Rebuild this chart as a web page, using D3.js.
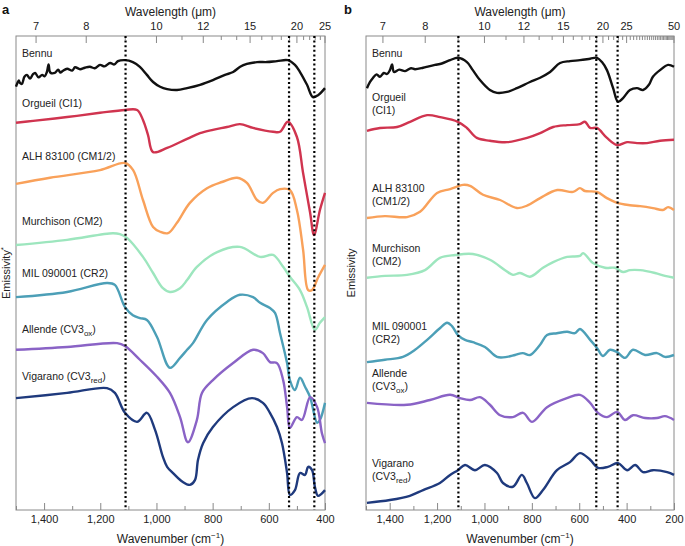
<!DOCTYPE html>
<html>
<head>
<meta charset="utf-8">
<script src="https://cdn.jsdelivr.net/npm/d3@7"></script>
<style>
  body { margin: 0; background: #fff; }
  svg { font-family: "Liberation Sans", Arial, sans-serif; }
  .axis text { font-size: 11px; fill: #222; }
  .axis path { display: none; }
  .axis line { stroke: #888; }
</style>
</head>
<body>
<svg width="685" height="546"></svg>
<script>
// ---- dados (numero de onda em cm-1, emissividade empilhada em unidades arbitrarias) ----
let nomes = ["Bennu", "Orgueil (CI1)", "ALH 83100 (CM1/2)", "Murchison (CM2)", "MIL 090001 (CR2)", "Allende (CV3ox)", "Vigarano (CV3red)"];
let nomes_b = [["Bennu"], ["Orgueil", "(CI1)"], ["ALH 83100", "(CM1/2)"], ["Murchison", "(CM2)"], ["MIL 090001", "(CR2)"], ["Allende", "(CV3ox)"], ["Vigarano", "(CV3red)"]];
let cores = ["#111111", "#d0344f", "#f9a15a", "#9de6be", "#4c9fb7", "#8a63c6", "#1f3a7d"];

let bennu_a = [[1500,89.3],[1490,90.6],[1486,90.1],[1479,89.9],[1470,91.4],[1461,91.8],[1450,91.0],[1440,91.9],[1432,92.2],[1420,91.3],[1407,91.8],[1398,91.5],[1390,92.4],[1384,94.0],[1378,92.3],[1362,92.2],[1350,92.9],[1342,92.3],[1334,92.6],[1318,93.1],[1300,92.7],[1290,93.4],[1272,93.0],[1255,93.3],[1237,93.5],[1220,93.2],[1201,93.9],[1185,93.6],[1165,94.3],[1150,94.0],[1137,94.7],[1112,94.9],[1084,94.5],[1059,93.5],[1034,91.8],[1012,90.3],[987,89.3],[962,88.8],[927,88.6],[891,89.0],[845,89.7],[799,90.7],[756,91.8],[727,92.4],[702,93.5],[678,94.1],[642,94.5],[607,94.5],[571,94.7],[532,94.9],[507,93.9],[489,92.4],[464,89.7],[443,87.1],[425,87.5],[400,89.0]];
let orgueil_a = [[1500,81.7],[1439,82.1],[1318,82.9],[1201,83.8],[1112,84.4],[1069,84.4],[1048,82.3],[1030,79.1],[1012,75.5],[962,76.4],[891,78.3],[845,79.5],[799,80.2],[749,80.8],[703,81.4],[656,80.6],[585,79.8],[560,79.8],[532,81.9],[500,78.7],[478,71.1],[453,62.7],[439,58.0],[418,63.3],[400,66.9]];
let alh_a = [[1500,68.8],[1379,70.1],[1201,71.7],[1112,73.2],[1083,71.7],[1048,65.4],[1012,59.7],[987,58.7],[959,58.4],[927,60.6],[881,64.8],[820,67.9],[767,69.2],[713,70.1],[678,69.0],[642,65.4],[621,64.8],[585,66.9],[560,67.7],[525,67.5],[500,63.3],[478,54.9],[460,46.4],[446,46.4],[425,49.0],[400,51.7]];
let murchison_a = [[1500,55.9],[1318,57.0],[1155,58.4],[1130,58.2],[1105,57.4],[1048,53.4],[1012,50.0],[977,46.8],[952,46.0],[916,46.8],[891,48.5],[856,51.3],[784,54.4],[703,55.5],[631,53.4],[585,53.8],[549,51.3],[525,49.2],[489,46.4],[464,42.8],[436,38.0],[418,39.5],[400,40.7]];
let mil_a = [[1500,44.9],[1318,46.0],[1176,47.9],[1148,47.5],[1112,42.8],[1084,41.1],[1059,40.5],[1034,40.1],[998,36.5],[952,30.0],[916,32.1],[891,33.8],[870,35.2],[820,40.1],[749,43.9],[703,45.4],[656,44.9],[631,43.7],[596,42.6],[578,41.6],[560,37.3],[535,31.0],[525,27.4],[507,25.3],[489,27.9],[471,26.0],[453,23.8],[428,18.4],[418,19.0],[400,22.6]];
let allende_a = [[1500,33.8],[1318,34.4],[1140,35.2],[1112,34.6],[1059,31.7],[998,28.1],[952,24.7],[916,19.6],[888,14.3],[856,19.0],[838,24.7],[799,27.4],[727,31.0],[656,33.8],[621,33.1],[596,31.2],[571,31.0],[549,27.4],[535,21.7],[525,17.3],[500,19.6],[482,19.0],[453,23.8],[428,21.7],[411,16.2],[400,14.1]];
let vigarano_a = [[1500,23.6],[1318,24.7],[1176,25.7],[1148,24.7],[1112,20.5],[1069,18.6],[1034,20.5],[1005,16.9],[977,11.2],[962,9.1],[941,7.8],[906,5.9],[881,5.3],[863,6.3],[852,10.6],[834,14.1],[799,17.5],[727,21.7],[660,23.6],[621,22.6],[596,20.5],[571,17.5],[553,14.1],[535,7.8],[525,3.2],[507,4.2],[489,7.8],[471,7.4],[460,9.1],[446,8.4],[436,4.9],[425,3.0],[400,4.2]];

let bennu_b = [[1496,89.0],[1483,90.3],[1470,91.2],[1455,91.9],[1441,91.4],[1425,92.2],[1411,92.0],[1399,92.8],[1390,94.0],[1382,92.4],[1360,92.9],[1335,92.6],[1310,93.2],[1293,93.0],[1259,93.3],[1235,93.6],[1209,93.9],[1180,94.2],[1145,94.9],[1112,95.4],[1074,94.5],[1049,92.8],[1019,90.7],[977,88.6],[947,88.0],[905,88.2],[863,89.0],[808,90.3],[765,91.2],[723,92.4],[681,94.3],[639,94.7],[597,94.9],[554,95.2],[525,95.4],[504,94.5],[483,92.8],[457,89.0],[436,86.1],[415,86.9],[386,88.6],[356,89.0],[331,88.6],[306,89.7],[289,91.4],[259,92.8],[225,93.9],[200,93.5]];
let orgueil_b = [[1496,80.0],[1441,80.6],[1369,80.8],[1314,81.9],[1242,83.3],[1187,82.9],[1112,81.9],[1074,80.6],[1032,78.5],[977,77.9],[905,77.6],[820,78.5],[765,79.5],[710,80.8],[651,81.2],[597,81.4],[576,81.9],[554,80.6],[525,80.6],[483,78.5],[440,77.0],[398,77.6],[356,77.4],[314,77.4],[259,77.9],[200,78.1]];
let alh_b = [[1496,61.6],[1420,62.0],[1327,61.8],[1272,62.9],[1200,66.9],[1145,67.7],[1091,68.6],[1061,68.4],[1006,66.5],[934,65.4],[863,63.7],[816,64.3],[765,65.8],[693,67.5],[626,67.1],[597,67.9],[576,67.3],[525,67.1],[483,65.8],[440,64.8],[386,64.3],[343,64.1],[289,63.7],[247,63.3],[225,63.9],[200,63.3]];
let murchison_b = [[1496,49.0],[1420,49.4],[1327,49.6],[1251,50.6],[1188,53.2],[1124,53.8],[1049,54.0],[977,52.8],[913,50.6],[880,49.6],[850,50.0],[808,49.2],[753,51.1],[710,52.3],[651,53.4],[597,53.6],[584,54.2],[542,52.1],[491,51.1],[449,51.1],[415,50.2],[386,50.6],[343,50.6],[280,50.0],[238,49.4],[200,49.0]];
let mil_b = [[1496,31.2],[1420,31.7],[1344,32.3],[1293,33.8],[1242,35.9],[1187,38.4],[1158,39.5],[1137,38.8],[1112,36.9],[1082,35.9],[1049,35.4],[998,34.4],[947,32.3],[905,32.3],[871,32.7],[838,33.1],[808,32.7],[766,34.8],[736,36.9],[694,37.3],[651,37.6],[618,37.3],[597,38.2],[554,35.9],[525,34.2],[500,32.5],[470,33.8],[440,33.3],[407,32.1],[373,33.8],[322,32.7],[272,33.1],[238,32.3],[200,32.7]];
let allende_b = [[1496,22.6],[1327,22.2],[1230,23.2],[1145,24.3],[1103,23.6],[1061,23.2],[1019,23.8],[977,22.2],[934,20.0],[880,19.6],[837,20.5],[799,18.6],[736,21.7],[652,23.6],[597,24.3],[554,22.6],[521,20.5],[483,19.6],[440,20.7],[407,19.0],[373,20.0],[322,19.4],[272,19.4],[238,19.8],[200,19.0]];
let vigarano_b = [[1496,1.5],[1399,2.1],[1315,3.0],[1259,4.2],[1188,5.7],[1145,7.4],[1112,8.4],[1082,9.5],[1040,8.4],[998,9.5],[947,7.8],[922,5.7],[880,4.9],[842,7.4],[821,5.7],[787,2.5],[753,4.2],[694,8.4],[639,10.1],[597,12.0],[554,10.6],[521,8.9],[479,9.1],[436,9.9],[398,8.4],[364,9.5],[331,8.0],[289,8.4],[229,8.0],[200,7.4]];

let series_a = [bennu_a, orgueil_a, alh_a, murchison_a, mil_a, allende_a, vigarano_a];
let series_b = [bennu_b, orgueil_b, alh_b, murchison_b, mil_b, allende_b, vigarano_b];

// altura dos rotulos (mesmas unidades da emissividade)
let rotulo_a = [96.4, 85.7, 74.7, 61.0, 50.0, 38.2, 28.3];
let rotulo_b = [96.4, 87.1, 67.9, 55.3, 38.8, 28.9, 9.9];

// linhas pontilhadas (cm-1)
let linhas_pontilhadas = [1110, 528, 438];

// eixos
let ticks_baixo_a = [1400, 1200, 1000, 800, 600, 400];
let ticks_baixo_b = [1400, 1200, 1000, 800, 600, 400, 200];
let ticks_topo_a = [7, 8, 10, 12, 15, 20, 25];
let ticks_topo_b = [7, 8, 10, 12, 15, 20, 25, 50];
let menores_topo = [9, 11, 13, 14, 16, 17, 18, 19, 21, 22, 23, 24];
let menores_topo_b = menores_topo.concat(d3.range(26, 50));

let svg = d3.select("svg");
let y = d3.scaleLinear().domain([0, 100]).range([510, 36]);

function painel(opts) {
  let x = d3.scaleLinear().domain(opts.dominio).range(opts.range);
  let g = svg.append("g");
  let topo = y.range()[1], base = y.range()[0];

  // caixa
  g.append("rect")
    .attr("x", x.range()[0]).attr("y", topo)
    .attr("width", x.range()[1] - x.range()[0]).attr("height", base - topo)
    .attr("fill", "none").attr("stroke", "#8a8a8a").attr("stroke-width", 1);

  // eixo de baixo
  let menores_baixo = d3.range(opts.dominio[1], opts.dominio[0] + 1, 100).filter(d => opts.ticks_baixo.indexOf(d) < 0);
  g.append("g").attr("class", "axis").attr("transform", "translate(0," + base + ")")
    .call(d3.axisBottom(x).tickValues(menores_baixo).tickSize(-4).tickFormat(""));
  g.append("g").attr("class", "axis").attr("transform", "translate(0," + base + ")")
    .call(d3.axisBottom(x).tickValues(opts.ticks_baixo).tickSize(-7).tickPadding(5).tickFormat(d3.format(",")));

  // eixo de cima (comprimento de onda)
  let xw = v => x(10000 / v);
  g.append("g").attr("class", "axis")
    .selectAll("line.menor").data(opts.menores_topo).join("line")
      .attr("x1", xw).attr("x2", xw).attr("y1", topo).attr("y2", topo + 4);
  g.append("g").attr("class", "axis")
    .selectAll("line.maior").data(opts.ticks_topo).join("line")
      .attr("x1", xw).attr("x2", xw).attr("y1", topo).attr("y2", topo + 7);
  g.append("g").attr("class", "axis")
    .selectAll("text").data(opts.ticks_topo).join("text")
      .attr("x", xw).attr("y", topo - 6)
      .attr("text-anchor", "middle")
      .text(d => d);

  // titulos
  let meio = (x.range()[0] + x.range()[1]) / 2;
  g.append("text").attr("x", meio).attr("y", 16).attr("text-anchor", "middle")
    .attr("font-size", 12).attr("fill", "#222").text("Wavelength (μm)");
  let t = g.append("text").attr("x", meio).attr("y", 543).attr("text-anchor", "middle")
    .attr("font-size", 12).attr("fill", "#222");
  t.append("tspan").text("Wavenumber (cm");
  t.append("tspan").attr("dy", -5).attr("font-size", 8).text("−1");
  t.append("tspan").attr("dy", 5).text(")");

  let ey = g.append("text")
    .attr("transform", "translate(" + opts.x_ylabel + "," + ((topo + base) / 2) + ") rotate(-90)")
    .attr("text-anchor", "middle").attr("font-size", 11).attr("fill", "#222");
  ey.append("tspan").text("Emissivity");
  if (opts.asterisco) ey.append("tspan").attr("dy", -4).attr("font-size", 8).text("*");

  svg.append("text").attr("x", opts.x_letra).attr("y", 14)
    .attr("font-size", 13).attr("font-weight", "bold").attr("fill", "#111").text(opts.letra);

  // espectros
  let linha = d3.line().x(d => x(d[0])).y(d => y(d[1])).curve(d3.curveCatmullRom.alpha(0.5));
  g.selectAll("path.espectro").data(opts.series).join("path")
    .attr("class", "espectro")
    .attr("d", linha)
    .attr("fill", "none")
    .attr("stroke", (d, i) => cores[i])
    .attr("stroke-width", 2.4)
    .attr("stroke-linejoin", "round");

  // linhas pontilhadas
  g.selectAll("line.pont").data(linhas_pontilhadas).join("line")
    .attr("class", "pont")
    .attr("x1", d => x(d)).attr("x2", d => x(d))
    .attr("y1", topo).attr("y2", base)
    .attr("stroke", "#000").attr("stroke-width", 2.2)
    .attr("stroke-dasharray", "2,2.6");

  // rotulos
  opts.nomes.forEach((linhas, i) => {
    let txt = g.append("text").attr("x", x.range()[0] + 6).attr("y", y(opts.rotulos[i]))
      .attr("font-size", 10.5).attr("fill", "#222");
    linhas.forEach((s, j) => {
      let m = s.match(/^(.*CV3)(ox|red)(\)?)$/);
      let ts = txt.append("tspan").attr("x", x.range()[0] + 6).attr("dy", j == 0 ? "0.35em" : "1.3em");
      if (m) {
        ts.text(m[1]);
        txt.append("tspan").attr("dy", 3).attr("font-size", 8).text(m[2]);
        txt.append("tspan").attr("dy", -3).text(m[3]);
      } else {
        ts.text(s);
      }
    });
  });
}

painel({
  dominio: [1500, 400], range: [16, 325], series: series_a,
  ticks_baixo: ticks_baixo_a, ticks_topo: ticks_topo_a, menores_topo: menores_topo,
  nomes: nomes.map(d => [d]), rotulos: rotulo_a,
  letra: "a", x_letra: 2, x_ylabel: 10, asterisco: true
});

painel({
  dominio: [1500, 200], range: [366, 674], series: series_b,
  ticks_baixo: ticks_baixo_b, ticks_topo: ticks_topo_b, menores_topo: menores_topo_b,
  nomes: nomes_b, rotulos: rotulo_b,
  letra: "b", x_letra: 344, x_ylabel: 355, asterisco: false
});
</script>
</body>
</html>
